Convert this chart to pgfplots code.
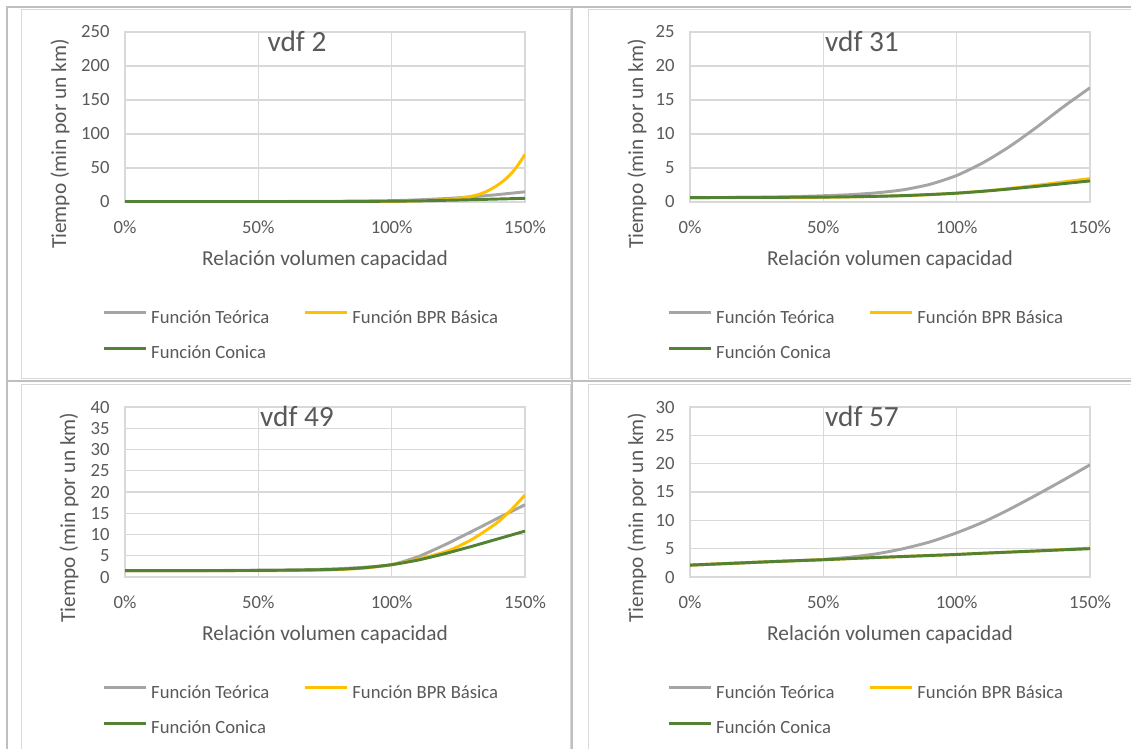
\documentclass[border=0pt]{standalone}
\usepackage{pgfplots}
\pgfplotsset{compat=1.18}
\usepackage{pgfplotstable}
\usepackage{fontspec}
\setmainfont{Carlito}
\definecolor{teoc}{RGB}{165,165,165}
\definecolor{bprc}{RGB}{255,192,0}
\definecolor{conc}{RGB}{84,130,53}
\definecolor{textc}{RGB}{89,89,89}
\definecolor{gridc}{RGB}{217,217,217}
\definecolor{tblc}{RGB}{191,191,191}

\pgfplotstableread{
x teo bpr con
0 0.6 0.6 0.6
0.1 0.6 0.6 0.6
0.2 0.6 0.6 0.6
0.3 0.62 0.6 0.6
0.4 0.65 0.6 0.6
0.5 0.7 0.6 0.62
0.6 0.78 0.6 0.65
0.7 0.9 0.62 0.68
0.8 1.1 0.64 0.75
0.9 1.45 0.7 0.9
1.0 2.0 0.95 1.2
1.05 2.5 1.25 1.4
1.1 3.2 1.7 1.7
1.15 4.1 2.4 2.0
1.2 5.0 3.4 2.5
1.225 5.6 4.3 2.7
1.25 6.2 5.4 2.9
1.275 6.9 6.8 3.15
1.3 7.6 8.5 3.4
1.325 8.4 11 3.65
1.35 9.2 14.5 3.9
1.375 10.1 19.5 4.15
1.4 11.0 25.5 4.4
1.425 12.0 33 4.65
1.45 13.0 42.5 4.9
1.475 14.0 55 5.2
1.5 15.0 70 5.5
}\vdfA

\pgfplotstableread{
x teo bpr con
0 0.65 0.65 0.65
0.1 0.66 0.65 0.66
0.2 0.68 0.66 0.67
0.3 0.72 0.66 0.68
0.4 0.8 0.68 0.7
0.5 0.92 0.7 0.72
0.6 1.08 0.75 0.77
0.7 1.35 0.82 0.84
0.8 1.8 0.92 0.94
0.9 2.6 1.08 1.1
1.0 3.9 1.3 1.3
1.1 5.8 1.6 1.58
1.2 8.2 2.0 1.92
1.3 11.0 2.45 2.3
1.4 14.0 2.95 2.7
1.5 16.8 3.45 3.1
}\vdfB

\pgfplotstableread{
x teo bpr con
0 1.5 1.5 1.5
0.1 1.5 1.5 1.5
0.2 1.5 1.5 1.5
0.3 1.52 1.5 1.5
0.4 1.55 1.5 1.52
0.5 1.6 1.5 1.55
0.6 1.65 1.52 1.6
0.7 1.75 1.58 1.68
0.8 1.95 1.75 1.82
0.9 2.3 2.1 2.2
1.0 2.9 2.9 2.9
1.1 4.8 4.2 4.0
1.2 7.6 5.9 5.5
1.25 9.15 7.2 6.35
1.3 10.7 8.8 7.2
1.35 12.3 10.8 8.1
1.4 13.9 13.0 9.0
1.45 15.45 15.9 9.9
1.5 17.0 19.3 10.8
}\vdfC

\pgfplotstableread{
x teo bpr con
0 2.1 2.1 2.1
0.1 2.3 2.3 2.3
0.2 2.5 2.5 2.5
0.3 2.7 2.7 2.7
0.4 2.9 2.88 2.88
0.5 3.1 3.05 3.05
0.6 3.5 3.25 3.25
0.7 4.1 3.45 3.45
0.8 5.0 3.62 3.62
0.9 6.2 3.8 3.8
1.0 7.8 3.98 3.98
1.1 9.7 4.2 4.2
1.2 12.0 4.4 4.4
1.3 14.5 4.6 4.6
1.4 17.1 4.85 4.8
1.5 19.8 5.1 5.0
}\vdfD

\pgfplotsset{
  panel/.style={
    scale only axis, width=300pt, height=127.5pt,
    xmin=0, xmax=1.5, ymin=0,
    xtick={0,0.5,1,1.5}, xticklabels={0\%,50\%,100\%,150\%},
    grid=major, major grid style={draw=gridc, line width=1.1pt},
    axis line style={draw=gridc, line width=1.1pt},
    tick style={draw=none},
    /pgf/number format/assume math mode=true,
    ticklabel style={font=\fontsize{14}{16}\selectfont, text=textc},
    xticklabel style={yshift=-10.5pt},
    yticklabel style={xshift=-8pt},
    xlabel={Relación volumen capacidad},
    xlabel style={at={(0.5,-0.34)}, anchor=center, font=\fontsize{16}{18}\selectfont, text=textc},
    ylabel={Tiempo (min por un km)},
    ylabel style={anchor=center, font=\fontsize{16}{18}\selectfont, text=textc},
    title style={at={(0.43,0.895)}, anchor=center, font=\fontsize{22}{24}\selectfont, text=textc},
    legend columns=2,
    legend cell align=left,
    legend image code/.code={\draw[##1, line width=2.2pt] (0pt,3.8pt) -- (31.5pt,3.8pt);},
    legend style={draw=none, fill=none, at={(-0.0575,-0.635)}, anchor=north west,
      font=\fontsize{14}{17}\selectfont, text=textc, inner sep=0pt,
      nodes={inner sep=0pt},
      row sep=15.5pt,
      /tikz/every odd column/.append style={column sep=3pt},
      /tikz/every even column/.append style={column sep=25.5pt}},
    every axis plot/.append style={line width=2.2pt, smooth, tension=0.4},
  }
}

\begin{document}
\begin{tikzpicture}
\begin{scope}[x=0.75pt, y=-0.75pt]
\path[use as bounding box] (0,0) rectangle (1131,749);
\draw[gridc, line width=0.75pt] (21,378) -- (21,10) -- (570,10) -- (570,378) -- cycle;
\draw[gridc, line width=0.75pt] (1140,10) -- (588,10) -- (588,378) -- (1140,378);
\draw[gridc, line width=0.75pt] (21,760) -- (21,384) -- (570,384) -- (570,760);
\draw[gridc, line width=0.75pt] (1140,384) -- (588,384) -- (588,760);
\draw[tblc, line width=1.5pt] (7,760) -- (7,7) -- (1140,7);
\draw[tblc, line width=1.5pt] (572,7) -- (572,760);
\draw[tblc, line width=1.5pt] (7,381) -- (1140,381);
\end{scope}

\begin{axis}[panel, at={(93.75pt,-151.5pt)}, anchor=south west,
  ymax=250, ytick={0,50,100,150,200,250}, title={vdf 2},
  ylabel style={at={(-0.1625,0.341)}}]
\addplot[teoc] table[x=x,y=teo]{\vdfA};
\addlegendentry{Función Teórica}
\addplot[bprc] table[x=x,y=bpr]{\vdfA};
\addlegendentry{Función BPR Básica}
\addplot[conc] table[x=x,y=con]{\vdfA};
\addlegendentry{Función Conica}
\end{axis}

\begin{axis}[panel, at={(517.5pt,-151.5pt)}, anchor=south west,
  ymax=25, ytick={0,5,10,15,20,25}, title={vdf 31},
  ylabel style={at={(-0.1325,0.341)}}]
\addplot[teoc] table[x=x,y=teo]{\vdfB};
\addlegendentry{Función Teórica}
\addplot[bprc] table[x=x,y=bpr]{\vdfB};
\addlegendentry{Función BPR Básica}
\addplot[conc] table[x=x,y=con]{\vdfB};
\addlegendentry{Función Conica}
\end{axis}

\begin{axis}[panel, at={(93.75pt,-432.75pt)}, anchor=south west,
  ymax=40, ytick={0,5,...,40}, title={vdf 49},
  ylabel style={at={(-0.14,0.35)}}]
\addplot[teoc] table[x=x,y=teo]{\vdfC};
\addlegendentry{Función Teórica}
\addplot[bprc] table[x=x,y=bpr]{\vdfC};
\addlegendentry{Función BPR Básica}
\addplot[conc] table[x=x,y=con]{\vdfC};
\addlegendentry{Función Conica}
\end{axis}

\begin{axis}[panel, at={(517.5pt,-432.75pt)}, anchor=south west,
  ymax=30, ytick={0,5,...,30}, title={vdf 57},
  ylabel style={at={(-0.1325,0.35)}}]
\addplot[teoc] table[x=x,y=teo]{\vdfD};
\addlegendentry{Función Teórica}
\addplot[bprc] table[x=x,y=bpr]{\vdfD};
\addlegendentry{Función BPR Básica}
\addplot[conc] table[x=x,y=con]{\vdfD};
\addlegendentry{Función Conica}
\end{axis}
\end{tikzpicture}
\end{document}
